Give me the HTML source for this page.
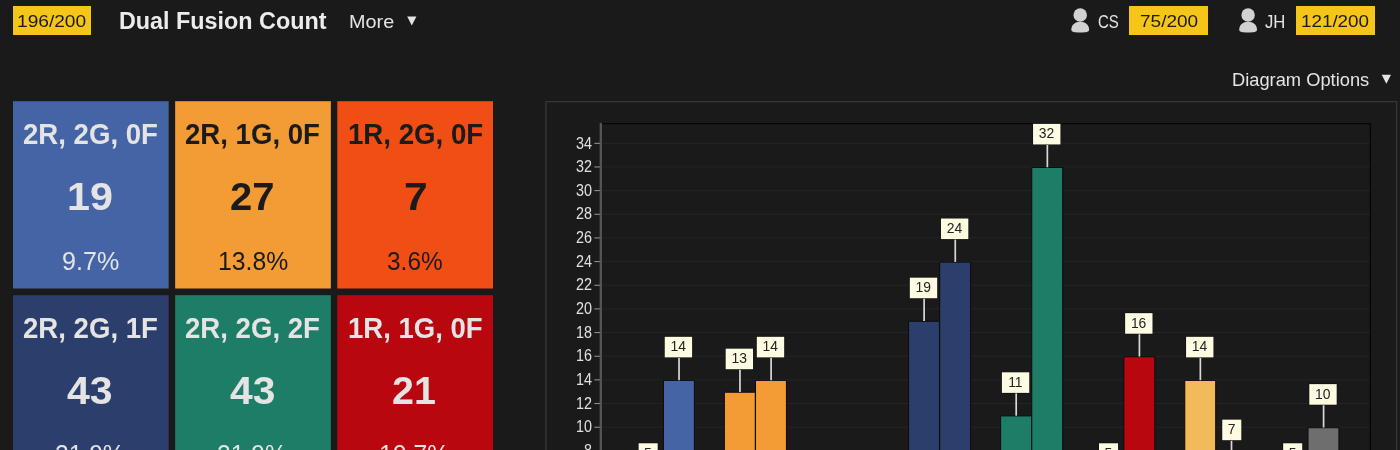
<!DOCTYPE html>
<html lang="en"><head><meta charset="utf-8"><title>Dual Fusion Count</title>
<style>
html,body{margin:0;padding:0;}
body{width:1400px;height:450px;overflow:hidden;background:#1a1a1a;position:relative;font-family:"Liberation Sans",sans-serif;}
.tx{position:absolute;line-height:1;white-space:nowrap;transform-origin:0 0;margin:0;font-weight:normal;display:block;}
.badge{position:absolute;top:6px;height:29px;background:#f5c518;}
.tile{position:absolute;width:156px;height:187px;}
#hdr{position:absolute;left:0;top:0;width:1400px;height:45px;}
svg{position:absolute;left:0;top:0;}
</style></head><body>

<div id="hdr">
<div class="badge" style="left:13px;width:78px;"><span class="tx" style="left:4.06px;top:7px;font-size:17.2px;transform:scaleX(1.1130);color:#1b1b1b;">196/200</span></div>
<h1 class="tx" style="left:119.02px;top:9px;font-size:24.4px;transform:scaleX(0.9572);color:#ececec;font-weight:bold;">Dual Fusion Count</h1>
<span class="tx" style="left:348.96px;top:14px;font-size:17.8px;transform:scaleX(1.1145);color:#e4e4e4;">More</span>
<span class="tx" style="left:1097.85px;top:14px;font-size:17.5px;transform:scaleX(0.8577);color:#e4e4e4;">CS</span>
<div class="badge" style="left:1129px;width:79px;"><span class="tx" style="left:11.40px;top:7px;font-size:17.2px;transform:scaleX(1.1050);color:#1b1b1b;">75/200</span></div>
<span class="tx" style="left:1265.45px;top:14px;font-size:17.5px;transform:scaleX(0.9549);color:#e4e4e4;">JH</span>
<div class="badge" style="left:1296px;width:79px;"><span class="tx" style="left:4.99px;top:7px;font-size:17.2px;transform:scaleX(1.0947);color:#1b1b1b;">121/200</span></div>
</div>
<span class="tx" style="left:1231.99px;top:72px;font-size:17.8px;transform:scaleX(1.0285);color:#e4e4e4;">Diagram Options</span>
<svg width="1400" height="450" viewBox="0 0 1400 450" font-family="Liberation Sans, sans-serif">
<rect x="13.00" y="101.20" width="155.7" height="187.3" fill="#4464a6"/>
<rect x="175.15" y="101.20" width="155.7" height="187.3" fill="#f39c35"/>
<rect x="337.30" y="101.20" width="155.7" height="187.3" fill="#f04e14"/>
<rect x="13.00" y="295.20" width="155.7" height="187.3" fill="#2b3e6c"/>
<rect x="175.15" y="295.20" width="155.7" height="187.3" fill="#1e7d66"/>
<rect x="337.30" y="295.20" width="155.7" height="187.3" fill="#b8070f"/>
<g fill="#d2d2d2"><circle cx="1080.2" cy="15.05" r="6.75"/><path d="M1071.3,29.6 C1071.3,24.8 1075.0,21.7 1080.2,21.7 C1085.4,21.7 1089.1,24.8 1089.1,29.6 C1089.1,31.9 1087.2,32.6 1080.2,32.6 C1073.2,32.6 1071.3,31.9 1071.3,29.6 Z"/></g>
<g fill="#d2d2d2"><circle cx="1248.1" cy="15.05" r="6.75"/><path d="M1239.2,29.6 C1239.2,24.8 1242.9,21.7 1248.1,21.7 C1253.3,21.7 1257.0,24.8 1257.0,29.6 C1257.0,31.9 1255.1,32.6 1248.1,32.6 C1241.1,32.6 1239.2,31.9 1239.2,29.6 Z"/></g>
<polygon points="407.2,16.5 416.4,16.5 411.8,25.5" fill="#e4e4e4"/>
<polygon points="1381.7,74.8 1391,74.8 1386.35,83.8" fill="#e4e4e4"/>
<rect x="545.9" y="101.7" width="850.8" height="400" fill="none" stroke="#3a3a3a" stroke-width="1.2"/>
<line x1="602" x2="1370" y1="450.88" y2="450.88" stroke="#252525" stroke-width="1"/>
<line x1="602" x2="1370" y1="427.22" y2="427.22" stroke="#252525" stroke-width="1"/>
<line x1="602" x2="1370" y1="403.56" y2="403.56" stroke="#252525" stroke-width="1"/>
<line x1="602" x2="1370" y1="379.90" y2="379.90" stroke="#252525" stroke-width="1"/>
<line x1="602" x2="1370" y1="356.24" y2="356.24" stroke="#252525" stroke-width="1"/>
<line x1="602" x2="1370" y1="332.58" y2="332.58" stroke="#252525" stroke-width="1"/>
<line x1="602" x2="1370" y1="308.92" y2="308.92" stroke="#252525" stroke-width="1"/>
<line x1="602" x2="1370" y1="285.26" y2="285.26" stroke="#252525" stroke-width="1"/>
<line x1="602" x2="1370" y1="261.60" y2="261.60" stroke="#252525" stroke-width="1"/>
<line x1="602" x2="1370" y1="237.94" y2="237.94" stroke="#252525" stroke-width="1"/>
<line x1="602" x2="1370" y1="214.28" y2="214.28" stroke="#252525" stroke-width="1"/>
<line x1="602" x2="1370" y1="190.62" y2="190.62" stroke="#252525" stroke-width="1"/>
<line x1="602" x2="1370" y1="166.96" y2="166.96" stroke="#252525" stroke-width="1"/>
<line x1="602" x2="1370" y1="143.30" y2="143.30" stroke="#252525" stroke-width="1"/>
<line x1="600" x2="1371" y1="123.7" y2="123.7" stroke="#060606" stroke-width="1.3"/>
<line x1="1370.4" x2="1370.4" y1="123" y2="450" stroke="#060606" stroke-width="1.3"/>
<line x1="600.8" x2="600.8" y1="123" y2="450" stroke="#565656" stroke-width="2.3"/>
<line x1="594.4" x2="599.8" y1="450.88" y2="450.88" stroke="#9a9a9a" stroke-width="1"/>
<text transform="translate(592.0,456.08) scale(0.88,1)" font-size="16.3" fill="#e0e0e0" text-anchor="end">8</text>
<line x1="594.4" x2="599.8" y1="427.22" y2="427.22" stroke="#9a9a9a" stroke-width="1"/>
<text transform="translate(592.0,432.42) scale(0.88,1)" font-size="16.3" fill="#e0e0e0" text-anchor="end">10</text>
<line x1="594.4" x2="599.8" y1="403.56" y2="403.56" stroke="#9a9a9a" stroke-width="1"/>
<text transform="translate(592.0,408.76) scale(0.88,1)" font-size="16.3" fill="#e0e0e0" text-anchor="end">12</text>
<line x1="594.4" x2="599.8" y1="379.90" y2="379.90" stroke="#9a9a9a" stroke-width="1"/>
<text transform="translate(592.0,385.10) scale(0.88,1)" font-size="16.3" fill="#e0e0e0" text-anchor="end">14</text>
<line x1="594.4" x2="599.8" y1="356.24" y2="356.24" stroke="#9a9a9a" stroke-width="1"/>
<text transform="translate(592.0,361.44) scale(0.88,1)" font-size="16.3" fill="#e0e0e0" text-anchor="end">16</text>
<line x1="594.4" x2="599.8" y1="332.58" y2="332.58" stroke="#9a9a9a" stroke-width="1"/>
<text transform="translate(592.0,337.78) scale(0.88,1)" font-size="16.3" fill="#e0e0e0" text-anchor="end">18</text>
<line x1="594.4" x2="599.8" y1="308.92" y2="308.92" stroke="#9a9a9a" stroke-width="1"/>
<text transform="translate(592.0,314.12) scale(0.88,1)" font-size="16.3" fill="#e0e0e0" text-anchor="end">20</text>
<line x1="594.4" x2="599.8" y1="285.26" y2="285.26" stroke="#9a9a9a" stroke-width="1"/>
<text transform="translate(592.0,290.46) scale(0.88,1)" font-size="16.3" fill="#e0e0e0" text-anchor="end">22</text>
<line x1="594.4" x2="599.8" y1="261.60" y2="261.60" stroke="#9a9a9a" stroke-width="1"/>
<text transform="translate(592.0,266.80) scale(0.88,1)" font-size="16.3" fill="#e0e0e0" text-anchor="end">24</text>
<line x1="594.4" x2="599.8" y1="237.94" y2="237.94" stroke="#9a9a9a" stroke-width="1"/>
<text transform="translate(592.0,243.14) scale(0.88,1)" font-size="16.3" fill="#e0e0e0" text-anchor="end">26</text>
<line x1="594.4" x2="599.8" y1="214.28" y2="214.28" stroke="#9a9a9a" stroke-width="1"/>
<text transform="translate(592.0,219.48) scale(0.88,1)" font-size="16.3" fill="#e0e0e0" text-anchor="end">28</text>
<line x1="594.4" x2="599.8" y1="190.62" y2="190.62" stroke="#9a9a9a" stroke-width="1"/>
<text transform="translate(592.0,195.82) scale(0.88,1)" font-size="16.3" fill="#e0e0e0" text-anchor="end">30</text>
<line x1="594.4" x2="599.8" y1="166.96" y2="166.96" stroke="#9a9a9a" stroke-width="1"/>
<text transform="translate(592.0,172.16) scale(0.88,1)" font-size="16.3" fill="#e0e0e0" text-anchor="end">32</text>
<line x1="594.4" x2="599.8" y1="143.30" y2="143.30" stroke="#9a9a9a" stroke-width="1"/>
<text transform="translate(592.0,148.50) scale(0.88,1)" font-size="16.3" fill="#e0e0e0" text-anchor="end">34</text>
<rect x="632.30" y="486.87" width="30.90" height="-26.37" fill="#4464a6" stroke="#0c0c0c" stroke-width="1"/>
<rect x="663.45" y="380.40" width="30.90" height="80.10" fill="#4464a6" stroke="#0c0c0c" stroke-width="1"/>
<rect x="724.38" y="392.23" width="30.90" height="68.27" fill="#f39c35" stroke="#0c0c0c" stroke-width="1"/>
<rect x="755.53" y="380.40" width="30.90" height="80.10" fill="#f39c35" stroke="#0c0c0c" stroke-width="1"/>
<rect x="816.46" y="510.53" width="30.90" height="-50.03" fill="#f04e14" stroke="#0c0c0c" stroke-width="1"/>
<rect x="847.61" y="498.70" width="30.90" height="-38.20" fill="#f04e14" stroke="#0c0c0c" stroke-width="1"/>
<rect x="908.54" y="321.25" width="30.90" height="139.25" fill="#2b3e6c" stroke="#0c0c0c" stroke-width="1"/>
<rect x="939.69" y="262.10" width="30.90" height="198.40" fill="#2b3e6c" stroke="#0c0c0c" stroke-width="1"/>
<rect x="1000.62" y="415.89" width="30.90" height="44.61" fill="#1e7d66" stroke="#0c0c0c" stroke-width="1"/>
<rect x="1031.77" y="167.46" width="30.90" height="293.04" fill="#1e7d66" stroke="#0c0c0c" stroke-width="1"/>
<rect x="1092.70" y="486.87" width="30.90" height="-26.37" fill="#b8070f" stroke="#0c0c0c" stroke-width="1"/>
<rect x="1123.85" y="356.74" width="30.90" height="103.76" fill="#b8070f" stroke="#0c0c0c" stroke-width="1"/>
<rect x="1184.78" y="380.40" width="30.90" height="80.10" fill="#f2ba58" stroke="#0c0c0c" stroke-width="1"/>
<rect x="1215.93" y="463.21" width="30.90" height="-2.71" fill="#f2ba58" stroke="#0c0c0c" stroke-width="1"/>
<rect x="1276.86" y="486.87" width="30.90" height="-26.37" fill="#6e6e6e" stroke="#0c0c0c" stroke-width="1"/>
<rect x="1308.01" y="427.72" width="30.90" height="32.78" fill="#6e6e6e" stroke="#0c0c0c" stroke-width="1"/>
<line x1="647.88" x2="647.88" y1="463.87" y2="486.67" stroke="#d8d8d8" stroke-width="1.7"/>
<rect x="638.10" y="442.77" width="20.10" height="21.60" fill="#0a0a0a"/>
<rect x="638.60" y="443.27" width="19.10" height="20.60" fill="#fdfbe2"/>
<text x="647.94" y="457.87" font-size="13.9" fill="#222" text-anchor="middle">5</text>
<line x1="679.02" x2="679.02" y1="357.40" y2="380.20" stroke="#d8d8d8" stroke-width="1.7"/>
<rect x="664.22" y="336.30" width="28.40" height="21.60" fill="#0a0a0a"/>
<rect x="664.72" y="336.80" width="27.40" height="20.60" fill="#fdfbe2"/>
<text x="678.22" y="351.40" font-size="13.9" fill="#222" text-anchor="middle">14</text>
<line x1="739.96" x2="739.96" y1="369.23" y2="392.03" stroke="#d8d8d8" stroke-width="1.7"/>
<rect x="725.15" y="348.13" width="28.40" height="21.60" fill="#0a0a0a"/>
<rect x="725.65" y="348.63" width="27.40" height="20.60" fill="#fdfbe2"/>
<text x="739.15" y="363.23" font-size="13.9" fill="#222" text-anchor="middle">13</text>
<line x1="771.11" x2="771.11" y1="357.40" y2="380.20" stroke="#d8d8d8" stroke-width="1.7"/>
<rect x="756.30" y="336.30" width="28.40" height="21.60" fill="#0a0a0a"/>
<rect x="756.80" y="336.80" width="27.40" height="20.60" fill="#fdfbe2"/>
<text x="770.30" y="351.40" font-size="13.9" fill="#222" text-anchor="middle">14</text>
<line x1="924.12" x2="924.12" y1="298.25" y2="321.05" stroke="#d8d8d8" stroke-width="1.7"/>
<rect x="909.31" y="277.15" width="28.40" height="21.60" fill="#0a0a0a"/>
<rect x="909.81" y="277.65" width="27.40" height="20.60" fill="#fdfbe2"/>
<text x="923.31" y="292.25" font-size="13.9" fill="#222" text-anchor="middle">19</text>
<line x1="955.26" x2="955.26" y1="239.10" y2="261.90" stroke="#d8d8d8" stroke-width="1.7"/>
<rect x="940.46" y="218.00" width="28.40" height="21.60" fill="#0a0a0a"/>
<rect x="940.96" y="218.50" width="27.40" height="20.60" fill="#fdfbe2"/>
<text x="954.46" y="233.10" font-size="13.9" fill="#222" text-anchor="middle">24</text>
<line x1="1016.19" x2="1016.19" y1="392.89" y2="415.69" stroke="#d8d8d8" stroke-width="1.7"/>
<rect x="1001.39" y="371.79" width="28.40" height="21.60" fill="#0a0a0a"/>
<rect x="1001.89" y="372.29" width="27.40" height="20.60" fill="#fdfbe2"/>
<text x="1015.39" y="386.89" font-size="13.9" fill="#222" text-anchor="middle">11</text>
<line x1="1047.35" x2="1047.35" y1="144.46" y2="167.26" stroke="#d8d8d8" stroke-width="1.7"/>
<rect x="1032.55" y="123.36" width="28.40" height="21.60" fill="#0a0a0a"/>
<rect x="1033.05" y="123.86" width="27.40" height="20.60" fill="#fdfbe2"/>
<text x="1046.55" y="138.46" font-size="13.9" fill="#222" text-anchor="middle">32</text>
<line x1="1108.27" x2="1108.27" y1="463.87" y2="486.67" stroke="#d8d8d8" stroke-width="1.7"/>
<rect x="1098.49" y="442.77" width="20.10" height="21.60" fill="#0a0a0a"/>
<rect x="1098.99" y="443.27" width="19.10" height="20.60" fill="#fdfbe2"/>
<text x="1108.34" y="457.87" font-size="13.9" fill="#222" text-anchor="middle">5</text>
<line x1="1139.42" x2="1139.42" y1="333.74" y2="356.54" stroke="#d8d8d8" stroke-width="1.7"/>
<rect x="1124.62" y="312.64" width="28.40" height="21.60" fill="#0a0a0a"/>
<rect x="1125.12" y="313.14" width="27.40" height="20.60" fill="#fdfbe2"/>
<text x="1138.62" y="327.74" font-size="13.9" fill="#222" text-anchor="middle">16</text>
<line x1="1200.36" x2="1200.36" y1="357.40" y2="380.20" stroke="#d8d8d8" stroke-width="1.7"/>
<rect x="1185.56" y="336.30" width="28.40" height="21.60" fill="#0a0a0a"/>
<rect x="1186.06" y="336.80" width="27.40" height="20.60" fill="#fdfbe2"/>
<text x="1199.56" y="351.40" font-size="13.9" fill="#222" text-anchor="middle">14</text>
<line x1="1231.51" x2="1231.51" y1="440.21" y2="463.01" stroke="#d8d8d8" stroke-width="1.7"/>
<rect x="1221.73" y="419.11" width="20.10" height="21.60" fill="#0a0a0a"/>
<rect x="1222.23" y="419.61" width="19.10" height="20.60" fill="#fdfbe2"/>
<text x="1231.58" y="434.21" font-size="13.9" fill="#222" text-anchor="middle">7</text>
<line x1="1292.43" x2="1292.43" y1="463.87" y2="486.67" stroke="#d8d8d8" stroke-width="1.7"/>
<rect x="1282.65" y="442.77" width="20.10" height="21.60" fill="#0a0a0a"/>
<rect x="1283.15" y="443.27" width="19.10" height="20.60" fill="#fdfbe2"/>
<text x="1292.50" y="457.87" font-size="13.9" fill="#222" text-anchor="middle">5</text>
<line x1="1323.59" x2="1323.59" y1="404.72" y2="427.52" stroke="#d8d8d8" stroke-width="1.7"/>
<rect x="1308.79" y="383.62" width="28.40" height="21.60" fill="#0a0a0a"/>
<rect x="1309.29" y="384.12" width="27.40" height="20.60" fill="#fdfbe2"/>
<text x="1322.79" y="398.72" font-size="13.9" fill="#222" text-anchor="middle">10</text>
</svg>
<div class="tile" style="left:13px;top:101px;"><span class="tx" style="left:10.18px;top:18px;font-size:29.4px;transform:scaleX(0.9386);color:#e4e4e4;font-weight:bold;">2R, 2G, 0F</span><span class="tx" style="left:54.42px;top:77px;font-size:38px;transform:scaleX(1.0864);color:#e4e4e4;font-weight:bold;">19</span><span class="tx" style="left:48.61px;top:148px;font-size:25.4px;transform:scaleX(0.9883);color:#e4e4e4;">9.7%</span></div>
<div class="tile" style="left:175px;top:101px;"><span class="tx" style="left:10.33px;top:18px;font-size:29.4px;transform:scaleX(0.9386);color:#1b1b1b;font-weight:bold;">2R, 1G, 0F</span><span class="tx" style="left:54.90px;top:77px;font-size:38px;transform:scaleX(1.0526);color:#1b1b1b;font-weight:bold;">27</span><span class="tx" style="left:42.94px;top:148px;font-size:25.4px;transform:scaleX(0.9752);color:#1b1b1b;">13.8%</span></div>
<div class="tile" style="left:337px;top:101px;"><span class="tx" style="left:10.67px;top:18px;font-size:29.4px;transform:scaleX(0.9404);color:#1b1b1b;font-weight:bold;">1R, 2G, 0F</span><span class="tx" style="left:67.09px;top:77px;font-size:38px;transform:scaleX(1.1198);color:#1b1b1b;font-weight:bold;">7</span><span class="tx" style="left:50.08px;top:148px;font-size:25.4px;transform:scaleX(0.9624);color:#1b1b1b;">3.6%</span></div>
<div class="tile" style="left:13px;top:295px;"><span class="tx" style="left:10.18px;top:18px;font-size:29.4px;transform:scaleX(0.9386);color:#e4e4e4;font-weight:bold;">2R, 2G, 1F</span><span class="tx" style="left:54.28px;top:77px;font-size:38px;transform:scaleX(1.0799);color:#e4e4e4;font-weight:bold;">43</span><span class="tx" style="left:42.17px;top:147px;font-size:25.4px;transform:scaleX(0.9678);color:#e4e4e4;">21.9%</span></div>
<div class="tile" style="left:175px;top:295px;"><span class="tx" style="left:10.33px;top:18px;font-size:29.4px;transform:scaleX(0.9386);color:#e4e4e4;font-weight:bold;">2R, 2G, 2F</span><span class="tx" style="left:54.79px;top:77px;font-size:38px;transform:scaleX(1.0725);color:#e4e4e4;font-weight:bold;">43</span><span class="tx" style="left:42.37px;top:147px;font-size:25.4px;transform:scaleX(0.9692);color:#e4e4e4;">21.9%</span></div>
<div class="tile" style="left:337px;top:295px;"><span class="tx" style="left:10.68px;top:18px;font-size:29.4px;transform:scaleX(0.9361);color:#e4e4e4;font-weight:bold;">1R, 1G, 0F</span><span class="tx" style="left:55.02px;top:77px;font-size:38px;transform:scaleX(1.0376);color:#e4e4e4;font-weight:bold;">21</span><span class="tx" style="left:41.74px;top:147px;font-size:25.4px;transform:scaleX(0.9752);color:#e4e4e4;">10.7%</span></div>
</body></html>
